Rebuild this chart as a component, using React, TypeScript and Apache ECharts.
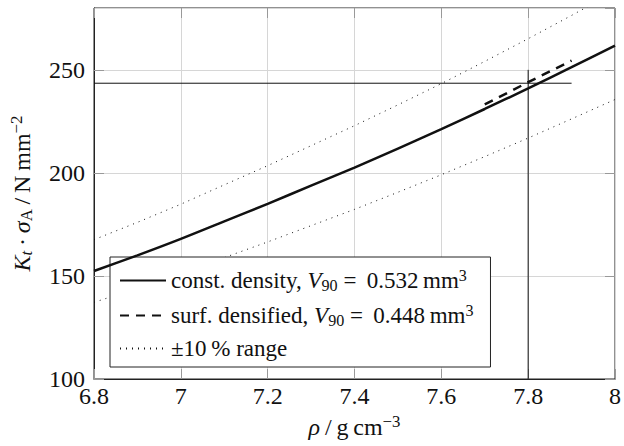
import React, { useEffect, useRef } from "react";
import * as echarts from "echarts";

const rho = [6.8, 6.9, 7.0, 7.1, 7.2, 7.3, 7.4, 7.5, 7.6, 7.7, 7.8, 7.9, 8.0];
const constDensity = [152.4, 160.0, 168.0, 176.5, 185.0, 193.8, 202.6, 211.8, 221.2, 231.0, 241.0, 251.3, 261.8];
const upperRange = [167.6, 176.0, 184.8, 194.2, 203.5, 213.2, 222.9, 233.0, 243.3, 254.1, 265.1, 276.4, 288.0];
const lowerRange = [137.2, 144.0, 151.2, 158.9, 166.5, 174.4, 182.3, 190.6, 199.1, 207.9, 216.9, 226.2, 235.6];
const surfRho = [7.7, 7.8, 7.9];
const surfDensified = [233.2, 244.0, 254.5];
const hLineX = [6.8, 7.9];
const hLineY = [243.5, 243.5];
const vLineX = [7.8, 7.8];
const vLineY = [100, 250];

const FONT = "Liberation Serif";
const INK = "#111";

const zip = (xs: number[], ys: number[]) => xs.map((x, i) => [x, ys[i]]);

const richBase = (size: number) => ({
  n: { fontFamily: FONT, fontSize: size, color: INK },
  i: { fontFamily: FONT, fontSize: size, color: INK, fontStyle: "italic" },
  sub: { fontFamily: FONT, fontSize: size * 0.7, color: INK, padding: [9, 0, 0, 0] },
  isub: { fontFamily: FONT, fontSize: size * 0.7, color: INK, fontStyle: "italic", padding: [9, 0, 0, 0] },
  sup: { fontFamily: FONT, fontSize: size * 0.7, color: INK, padding: [0, 0, 11, 0] },
});

export default function App() {
  const ref = useRef<HTMLDivElement>(null);
  useEffect(() => {
    if (!ref.current) return;
    const chart = echarts.init(ref.current, undefined, { renderer: "svg" });
    const legendNames: Record<string, string> = {
      c: "{n|const. density, }{i|V}{sub|90}{n| = \u20090.532\u2009mm}{sup|3}",
      s: "{n|surf. densified, }{i|V}{sub|90}{n| = \u20090.448\u2009mm}{sup|3}",
      r: "{n|\u00b110\u2009% range}",
    };
    chart.setOption({
      animation: false,
      backgroundColor: "#fff",
      textStyle: { fontFamily: FONT },
      grid: { left: 94, right: 5, top: 8, bottom: 67, show: true, borderColor: "#222", borderWidth: 1, containLabel: false },
      legend: {
        data: ["c", "s", "r"],
        orient: "vertical",
        left: 110,
        top: 257,
        backgroundColor: "#fff",
        borderColor: "#222",
        borderWidth: 1,
        borderRadius: 0,
        padding: [10, 17, 7, 9],
        itemWidth: 46,
        itemHeight: 14,
        itemGap: 9,
        selectedMode: false,
        itemStyle: { opacity: 0, color: "transparent", borderWidth: 0 },
        formatter: (name: string) => legendNames[name],
        textStyle: { fontFamily: FONT, fontSize: 23, color: INK, rich: richBase(23) },
      },
      xAxis: [
        {
          type: "value",
          min: 6.8,
          max: 8,
          interval: 0.2,
          name: "{i|\u03c1}{n|\u2009/\u2009g\u2009cm}{sup|\u22123}",
          nameLocation: "middle",
          nameGap: 27,
          nameTextStyle: { fontFamily: FONT, fontSize: 24, color: INK, rich: richBase(24) },
          axisLine: { show: true, lineStyle: { color: "#222", width: 1 } },
          axisTick: { show: true, inside: true, length: 10, lineStyle: { color: "#999" } },
          axisLabel: {
            fontFamily: FONT,
            fontSize: 24,
            color: INK,
            margin: 5,
            formatter: (v: number) => String(Number(v.toFixed(1))),
          },
          splitLine: { show: true, lineStyle: { color: "#d6d6d6", width: 1 } },
        },
        {
          type: "value",
          position: "top",
          min: 6.8,
          max: 8,
          interval: 0.2,
          axisLine: { show: false },
          axisTick: { show: true, inside: true, length: 10, lineStyle: { color: "#999" } },
          axisLabel: { show: false },
          splitLine: { show: false },
        },
      ],
      yAxis: [
        {
          type: "value",
          min: 100,
          max: 280,
          interval: 50,
          name: "{i|K}{isub|t}{n|\u2009\u00b7\u2009}{i|\u03c3}{sub|A}{n|\u2009/\u2009N\u2009mm}{sup|\u22122}",
          nameLocation: "middle",
          nameRotate: 90,
          nameGap: 58,
          nameTextStyle: { fontFamily: FONT, fontSize: 24, color: INK, rich: richBase(24) },
          axisLine: { show: true, lineStyle: { color: "#222", width: 1 } },
          axisTick: { show: true, inside: true, length: 10, lineStyle: { color: "#999" } },
          axisLabel: { fontFamily: FONT, fontSize: 24, color: INK, margin: 9, showMaxLabel: false },
          splitLine: { show: true, lineStyle: { color: "#d6d6d6", width: 1 } },
        },
        {
          type: "value",
          position: "right",
          min: 100,
          max: 280,
          interval: 50,
          axisLine: { show: false },
          axisTick: { show: true, inside: true, length: 10, lineStyle: { color: "#999" } },
          axisLabel: { show: false },
          splitLine: { show: false },
        },
      ],
      series: [
        {
          name: "r",
          type: "line",
          data: zip(rho, upperRange),
          showSymbol: false,
          symbol: "none",
          lineStyle: { color: INK, width: 1, type: [1, 5] },
          itemStyle: { color: INK },
          z: 3,
        },
        {
          name: "r",
          type: "line",
          data: zip(rho, lowerRange),
          showSymbol: false,
          symbol: "none",
          lineStyle: { color: INK, width: 1, type: [1, 5] },
          itemStyle: { color: INK },
          z: 3,
        },
        {
          name: "h",
          type: "line",
          data: zip(hLineX, hLineY),
          showSymbol: false,
          symbol: "none",
          lineStyle: { color: INK, width: 1 },
          z: 3,
        },
        {
          name: "v",
          type: "line",
          data: zip(vLineX, vLineY),
          showSymbol: false,
          symbol: "none",
          lineStyle: { color: INK, width: 1 },
          z: 3,
        },
        {
          name: "c",
          type: "line",
          data: zip(rho, constDensity),
          showSymbol: false,
          symbol: "none",
          smooth: 0.3,
          lineStyle: { color: INK, width: 2.5 },
          itemStyle: { color: INK },
          z: 4,
        },
        {
          name: "s",
          type: "line",
          data: zip(surfRho, surfDensified),
          showSymbol: false,
          symbol: "none",
          lineStyle: { color: INK, width: 2.5, type: [9, 7] },
          itemStyle: { color: INK },
          z: 4,
        },
      ],
    });
    return () => chart.dispose();
  }, []);
  return <div ref={ref} style={{ position: "fixed", left: 0, top: 0, width: 624, height: 446 }} />;
}
